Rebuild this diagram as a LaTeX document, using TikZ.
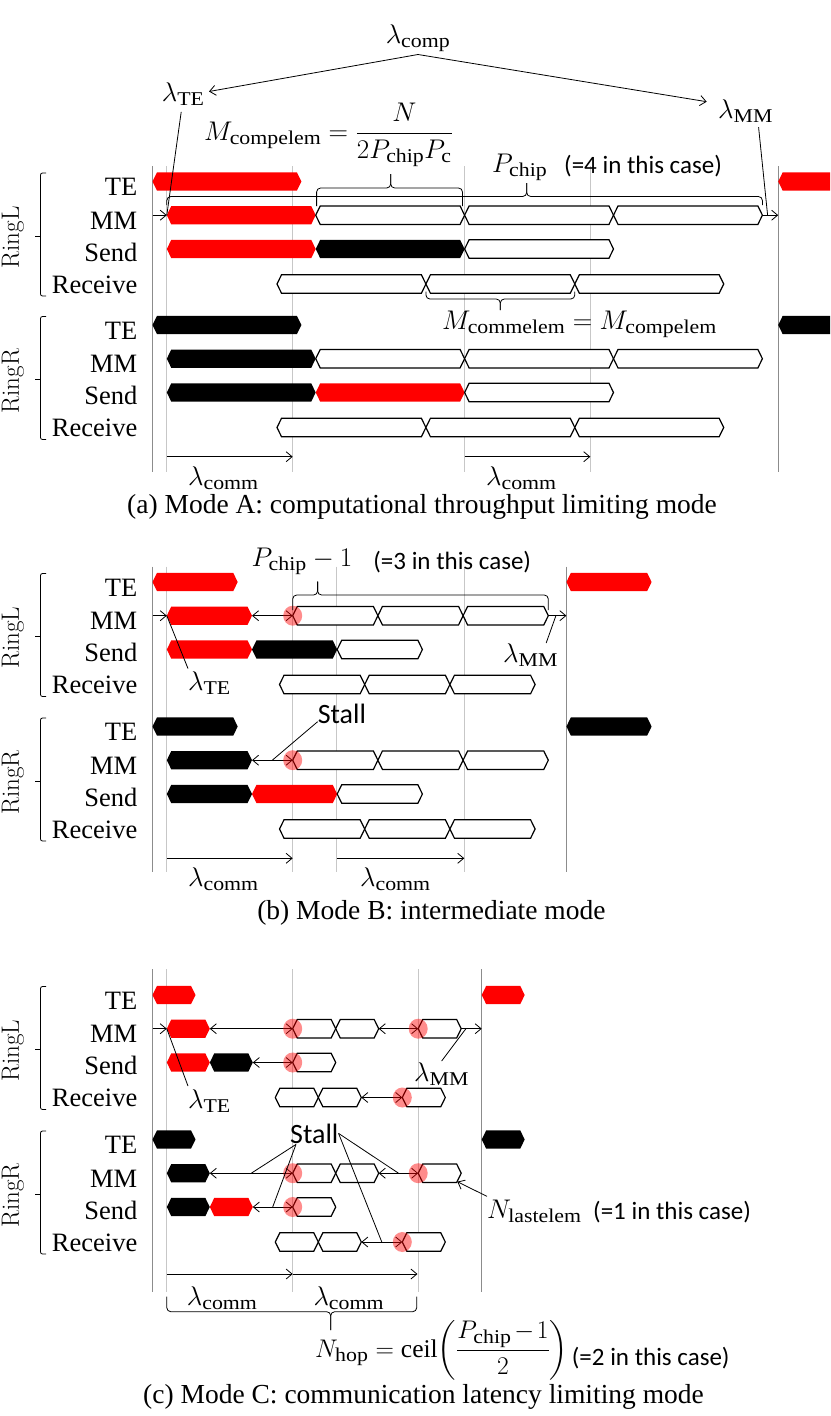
\documentclass[tikz,border=0pt]{standalone}
\usepackage{fix-cm}
\usepackage{amsmath}
\usepackage{graphicx}
\usepackage{fontspec}
\newfontfamily\tnr{Liberation Serif}
\newfontfamily\cbr{Carlito}
\newcommand\sbt[1]{\hbox{\scalebox{1.12}[1]{\tnr\fontsize{19.5}{24}\selectfont #1}}}
\usetikzlibrary{arrows.meta}
\tikzset{
  lab/.style={font=\tnr\fontsize{26.5}{30}\selectfont, inner sep=0pt, anchor=base east},
  capt/.style={font=\tnr\fontsize{27.5}{32}\selectfont, inner sep=0pt, anchor=base},
  ring/.style={font=\fontsize{25}{30}\selectfont, inner sep=0pt, rotate=90},
  mth/.style={font=\fontsize{27}{32}\selectfont, inner sep=0pt, anchor=base west},
  note/.style={font=\cbr\fontsize{25}{30}\selectfont, inner sep=0pt, anchor=west},
  stalltxt/.style={font=\cbr\fontsize{28}{32}\selectfont, inner sep=0pt, anchor=base west},
  conn/.style={line width=0.8pt, black},
  arr/.style={conn, -{Straight Barb[length=6pt,width=10pt]}},
  darr/.style={conn, {Straight Barb[length=6pt,width=10pt]}-{Straight Barb[length=6pt,width=10pt]}},
  vlin/.style={line width=0.8pt, black!22},
  vlout/.style={line width=0.8pt, black!45},
  redb/.style={fill=red},
  blkb/.style={fill=black},
  whb/.style={fill=white, draw=black, line width=1.2pt, line join=miter},
  stallfill/.style={fill=red, fill opacity=0.45},
  brcs/.style={line width=0.8pt, rounded corners=4pt},
}
\newcommand\hexb[4]{\path[#4] (#1,#3) -- ({#1+4.5},{#3-9.2}) -- ({#2-4.5},{#3-9.2}) -- (#2,#3) -- ({#2-4.5},{#3+9.2}) -- ({#1+4.5},{#3+9.2}) -- cycle;}
\newcommand\bracemk[6]{\draw[brcs] (#1,#3) -- (#1,#4) -- (#5,#4) -- (#5,#6);\draw[brcs] (#2,#3) -- (#2,#4) -- (#5,#4) -- (#5,#6);}
\newcommand\stallmk[2]{\fill[stallfill] (#1,#2) ellipse [x radius=9.5, y radius=10];}
\newcommand\rowlabs[3]{%
  \node[lab] (#1te) at (137.5,{#2+14}) {TE};
  \node[lab] (#1mm) at (137.5,{#2+47.5}) {MM};
  \node[lab] (#1sd) at (137.5,{#2+79.5}) {Send};
  \node[lab] (#1rc) at (137.5,{#2+111.5}) {Receive};
  \node[ring] (#1ring) at (13,{#2+56}) {#3};
  \draw[brcs,rounded corners=2pt] (46,{#2-8.5}) -- (40.5,{#2-8.5}) -- (40.5,{#2+114.5}) -- (46,{#2+114.5});
  \draw[conn] (40.5,{#2+54.5}) -- (35,{#2+54.5});}
\begin{document}
\begin{tikzpicture}[x=1pt,y=-1pt]
\useasboundingbox (0,0) rectangle (830,1416);
\fill[white] (0,0) rectangle (830,1416);
\clip (0,0) rectangle (830,1416);

%================ PANEL (a) ================
\foreach \x in {166.8,292.7,464.6,590.3} {\draw[vlin] (\x,166) -- (\x,471.7);}
\draw[vlout] (152.5,166) -- (152.5,471.7);
\draw[vlout] (778.2,166) -- (778.2,471.7);
% RingL
\hexb{152.5}{301.4}{181.5}{redb}
\hexb{778.2}{927.1}{181.5}{redb}
\hexb{166.8}{315.7}{215.2}{redb}
\hexb{315.7}{464.6}{215.2}{whb}
\hexb{464.6}{613.5}{215.2}{whb}
\hexb{613.5}{762.4}{215.2}{whb}
\hexb{166.8}{315.7}{249}{redb}
\hexb{315.7}{464.6}{249}{blkb}
\hexb{464.6}{613.5}{249}{whb}
\hexb{277}{425.9}{284}{whb}
\hexb{425.9}{574.8}{284}{whb}
\hexb{574.8}{723.7}{284}{whb}
% RingR
\hexb{152.5}{301.4}{325}{blkb}
\hexb{778.2}{927.1}{325}{blkb}
\hexb{166.8}{315.7}{358.7}{blkb}
\hexb{315.7}{464.6}{358.7}{whb}
\hexb{464.6}{613.5}{358.7}{whb}
\hexb{613.5}{762.4}{358.7}{whb}
\hexb{166.8}{315.7}{392.5}{blkb}
\hexb{315.7}{464.6}{392.5}{redb}
\hexb{464.6}{613.5}{392.5}{whb}
\hexb{277}{425.9}{427.5}{whb}
\hexb{425.9}{574.8}{427.5}{whb}
\hexb{574.8}{723.7}{427.5}{whb}

\node[mth,anchor=base] (acomp) at (418,43.5) {$\lambda_{\sbt{comp}}$};
\coordinate (aapex) at (418,54.5);
\node[mth] (ate) at (161.7,101.7) {$\lambda_{\sbt{TE}}$};
\node[mth] (amm) at (718,118) {$\lambda_{\sbt{MM}}$};
\coordinate (atetip) at (209,91.5);
\coordinate (ammtip) at (706.7,101.7);
\draw[arr] (aapex) -- (atetip);
\draw[arr] (aapex) -- (ammtip);
\coordinate (aL0) at (152.5,215.2);
\coordinate (aL1) at (166.8,215.2);
\coordinate (aR0) at (762.4,215.2);
\coordinate (aR1) at (778.2,215.2);
\coordinate (aRm) at (767.6,215.2);
\draw[arr] (aL0) -- (aL1);
\draw[arr] (aR0) -- (aR1);
\draw[conn] ([xshift=-2pt,yshift=-6pt]ate.south) -- (aL1);
\draw[conn] ([xshift=13pt,yshift=-5pt]amm.south) -- (aRm);

\node[mth] (amce) at (204,140) {$M_{\sbt{compelem}} = \dfrac{N}{2P_{\sbt{chip}}P_{\sbt{c}}}$};
\bracemk{166.8}{762.4}{205}{196.5}{526.7}{183}
\bracemk{316.6}{462.5}{206}{188}{390.7}{174}
\node[mth] (apc) at (492,172) {$P_{\sbt{chip}}$};
\node[note] (apcn) at (564,166) {(=4 in this case)};

\bracemk{425.9}{574.8}{291.5}{299}{500.3}{310}
\node[mth] (amcm) at (442,329) {$M_{\sbt{commelem}} = M_{\sbt{compelem}}$};

\coordinate (ac0) at (166.8,456.7);
\coordinate (ac1) at (292.7,456.7);
\coordinate (ac2) at (464.6,456.7);
\coordinate (ac3) at (590.3,456.7);
\draw[arr] (ac0) -- (ac1);
\draw[arr] (ac2) -- (ac3);
\node[mth] (alc1) at (188,485) {$\lambda_{\sbt{comm}}$};
\node[mth] (alc2) at (486,485) {$\lambda_{\sbt{comm}}$};
\node[capt] (acap) at (422,513) {(a) Mode A: computational throughput limiting mode};
\rowlabs{aL}{181.5}{RingL}
\rowlabs{aR}{325}{RingR}

%================ PANEL (b) ================
\foreach \x in {166.8,292.7,336.7,464.3} {\draw[vlin] (\x,566.7) -- (\x,871.7);}
\draw[vlout] (152.5,566.7) -- (152.5,871.7);
\draw[vlout] (566.4,566.7) -- (566.4,871.7);
% RingL
\hexb{152.5}{237.7}{582}{redb}
\hexb{566.4}{651.6}{582}{redb}
\hexb{166.8}{252}{615.7}{redb}
\hexb{292.7}{377.9}{615.7}{whb}
\hexb{377.9}{463.1}{615.7}{whb}
\hexb{463.1}{548.3}{615.7}{whb}
\hexb{166.8}{252}{649.5}{redb}
\hexb{252}{337.2}{649.5}{blkb}
\hexb{337.2}{422.4}{649.5}{whb}
\hexb{279.5}{364.7}{684.5}{whb}
\hexb{364.7}{449.9}{684.5}{whb}
\hexb{449.9}{535.1}{684.5}{whb}
% RingR
\hexb{152.5}{237.7}{726.5}{blkb}
\hexb{566.4}{651.6}{726.5}{blkb}
\hexb{166.8}{252}{760.2}{blkb}
\hexb{292.7}{377.9}{760.2}{whb}
\hexb{377.9}{463.1}{760.2}{whb}
\hexb{463.1}{548.3}{760.2}{whb}
\hexb{166.8}{252}{794}{blkb}
\hexb{252}{337.2}{794}{redb}
\hexb{337.2}{422.4}{794}{whb}
\hexb{279.5}{364.7}{829}{whb}
\hexb{364.7}{449.9}{829}{whb}
\hexb{449.9}{535.1}{829}{whb}

\coordinate (bs1a) at (252,615.7);
\coordinate (bs1b) at (292.7,615.7);
\coordinate (bs2a) at (252,760.2);
\coordinate (bs2b) at (292.7,760.2);
\coordinate (bs2m) at (272.3,760.2);
\draw[darr] (bs1a) -- (bs1b);
\draw[darr] (bs2a) -- (bs2b);
\stallmk{292.7}{615.7}
\stallmk{292.7}{760.2}

\coordinate (bL0) at (152.5,615.7);
\coordinate (bL1) at (166.8,615.7);
\coordinate (bR0) at (548.3,615.7);
\coordinate (bR1) at (566.4,615.7);
\coordinate (bRm) at (555.9,615.7);
\draw[arr] (bL0) -- (bL1);
\draw[arr] (bR0) -- (bR1);
\node[mth] (bte) at (188,690.5) {$\lambda_{\sbt{TE}}$};
\node[mth] (bmm) at (503,662) {$\lambda_{\sbt{MM}}$};
\draw[conn] (bL1) -- ([yshift=3pt]bte.north west);
\draw[conn] ([xshift=-12pt]bmm.north east) -- (bRm);

\node[mth] (bpc) at (251.5,566.7) {$P_{\sbt{chip}}-1$};
\node[note] (bpcn) at (373.2,561.7) {(=3 in this case)};
\bracemk{292.7}{548.3}{610}{595}{317.6}{581.7}

\node[stalltxt] (bst) at (317.6,723.3) {Stall};
\draw[conn] ([yshift=2pt]bst.south west) -- (bs2m);

\coordinate (bc0) at (166.8,858.3);
\coordinate (bc1) at (292.7,858.3);
\coordinate (bc2) at (336.7,858.3);
\coordinate (bc3) at (464.3,858.3);
\draw[arr] (bc0) -- (bc1);
\draw[arr] (bc2) -- (bc3);
\node[mth] (blc1) at (188,886.7) {$\lambda_{\sbt{comm}}$};
\node[mth] (blc2) at (360,886.7) {$\lambda_{\sbt{comm}}$};
\node[capt] (bcap) at (431.4,919) {(b) Mode B: intermediate mode};
\rowlabs{bL}{582}{RingL}
\rowlabs{bR}{726.5}{RingR}

%================ PANEL (c) ================
\foreach \x in {166.8,292.7,418.2} {\draw[vlin] (\x,969.3) -- (\x,1291.7);}
\draw[vlout] (152.5,969.3) -- (152.5,1291.7);
\draw[vlout] (481.7,969.3) -- (481.7,1291.7);
% RingL
\hexb{152.5}{195.5}{995}{redb}
\hexb{481.7}{524.7}{995}{redb}
\hexb{166.8}{209.8}{1028.7}{redb}
\hexb{292.7}{335.7}{1028.7}{whb}
\hexb{335.7}{378.7}{1028.7}{whb}
\hexb{418.2}{461.2}{1028.7}{whb}
\hexb{166.8}{209.8}{1062.5}{redb}
\hexb{209.8}{252.8}{1062.5}{blkb}
\hexb{292.7}{335.7}{1062.5}{whb}
\hexb{275.3}{318.3}{1097.5}{whb}
\hexb{318.3}{361.3}{1097.5}{whb}
\hexb{402.3}{445.3}{1097.5}{whb}
% RingR
\hexb{152.5}{195.5}{1139.5}{blkb}
\hexb{481.7}{524.7}{1139.5}{blkb}
\hexb{166.8}{209.8}{1173.2}{blkb}
\hexb{292.7}{335.7}{1173.2}{whb}
\hexb{335.7}{378.7}{1173.2}{whb}
\hexb{418.2}{461.2}{1173.2}{whb}
\hexb{166.8}{209.8}{1207}{blkb}
\hexb{209.8}{252.8}{1207}{redb}
\hexb{292.7}{335.7}{1207}{whb}
\hexb{275.3}{318.3}{1242}{whb}
\hexb{318.3}{361.3}{1242}{whb}
\hexb{402.3}{445.3}{1242}{whb}

% stall arrows RingL
\draw[darr] (209.8,1028.7) -- (292.7,1028.7);
\draw[darr] (378.7,1028.7) -- (418.2,1028.7);
\draw[darr] (252.8,1062.5) -- (292.7,1062.5);
\draw[darr] (361.3,1097.5) -- (402.3,1097.5);
\stallmk{292.7}{1028.7}
\stallmk{418.2}{1028.7}
\stallmk{292.7}{1062.5}
\stallmk{402.3}{1097.5}
% stall arrows RingR
\coordinate (cm1a) at (209.8,1173.2);
\coordinate (cm1b) at (292.7,1173.2);
\coordinate (cm1m) at (251.3,1173.2);
\coordinate (cm2a) at (378.7,1173.2);
\coordinate (cm2b) at (418.2,1173.2);
\coordinate (cm2m) at (398.5,1173.2);
\coordinate (csda) at (252.8,1207);
\coordinate (csdb) at (292.7,1207);
\coordinate (csdm) at (272.7,1207);
\coordinate (crca) at (361.3,1242);
\coordinate (crcb) at (402.3,1242);
\coordinate (crcm) at (381.8,1242);
\draw[darr] (cm1a) -- (cm1b);
\draw[darr] (cm2a) -- (cm2b);
\draw[darr] (csda) -- (csdb);
\draw[darr] (crca) -- (crcb);
\stallmk{292.7}{1173.2}
\stallmk{418.2}{1173.2}
\stallmk{292.7}{1207}
\stallmk{402.3}{1242}

\coordinate (cL0) at (152.5,1028.7);
\coordinate (cL1) at (166.8,1028.7);
\coordinate (cR0) at (461.2,1028.7);
\coordinate (cR1) at (481.7,1028.7);
\coordinate (cRm) at (465.9,1028.7);
\draw[arr] (cL0) -- (cL1);
\draw[arr] (cR0) -- (cR1);
\node[mth] (cte) at (188,1108) {$\lambda_{\sbt{TE}}$};
\node[mth] (cmm) at (414,1081) {$\lambda_{\sbt{MM}}$};
\draw[conn] (cL1) -- ([yshift=3pt]cte.north west);
\draw[conn] ([xshift=0pt,yshift=1pt]cmm.north) -- (cRm);

\node[stalltxt] (cst) at (290,1143) {Stall};
\draw[conn] ([xshift=6pt,yshift=-1pt]cst.south west) -- (cm1m);
\draw[conn] ([xshift=6pt,yshift=-1pt]cst.south west) -- (csdm);
\draw[conn] (cst.east) -- (cm2m);
\draw[conn] (cst.east) -- (crcm);

\coordinate (clast) at (457.3,1181.7);
\node[mth] (cnl) at (487,1218) {$N_{\sbt{lastelem}}$};
\node[note] (cnln) at (593,1212) {(=1 in this case)};
\draw[arr] ([yshift=3pt]cnl.north west) -- (clast);

\coordinate (cc0) at (166.8,1274);
\coordinate (cc1) at (292.7,1274);
\coordinate (cc2) at (417.5,1274);
\draw[arr] (cc0) -- (cc1);
\draw[arr] (cc1) -- (cc2);
\node[mth] (clc1) at (186.7,1305) {$\lambda_{\sbt{comm}}$};
\node[mth] (clc2) at (313.3,1305) {$\lambda_{\sbt{comm}}$};
\bracemk{166.8}{416.7}{1296.7}{1311.7}{330.7}{1330}
\node[mth, font=\fontsize{25.5}{30}\selectfont] (cnh) at (315,1357) {$N_{\sbt{hop}} = \hbox{\tnr ceil}\!\left(\dfrac{P_{\sbt{chip}}\mkern2mu{-}\mkern2mu1}{2}\right)$};
\node[note] (cnhn) at (571.7,1358.3) {(=2 in this case)};
\node[capt] (ccap) at (423.5,1403) {(c) Mode C: communication latency limiting mode};
\rowlabs{cL}{995}{RingL}
\rowlabs{cR}{1139.5}{RingR}
\end{tikzpicture}
\end{document}
